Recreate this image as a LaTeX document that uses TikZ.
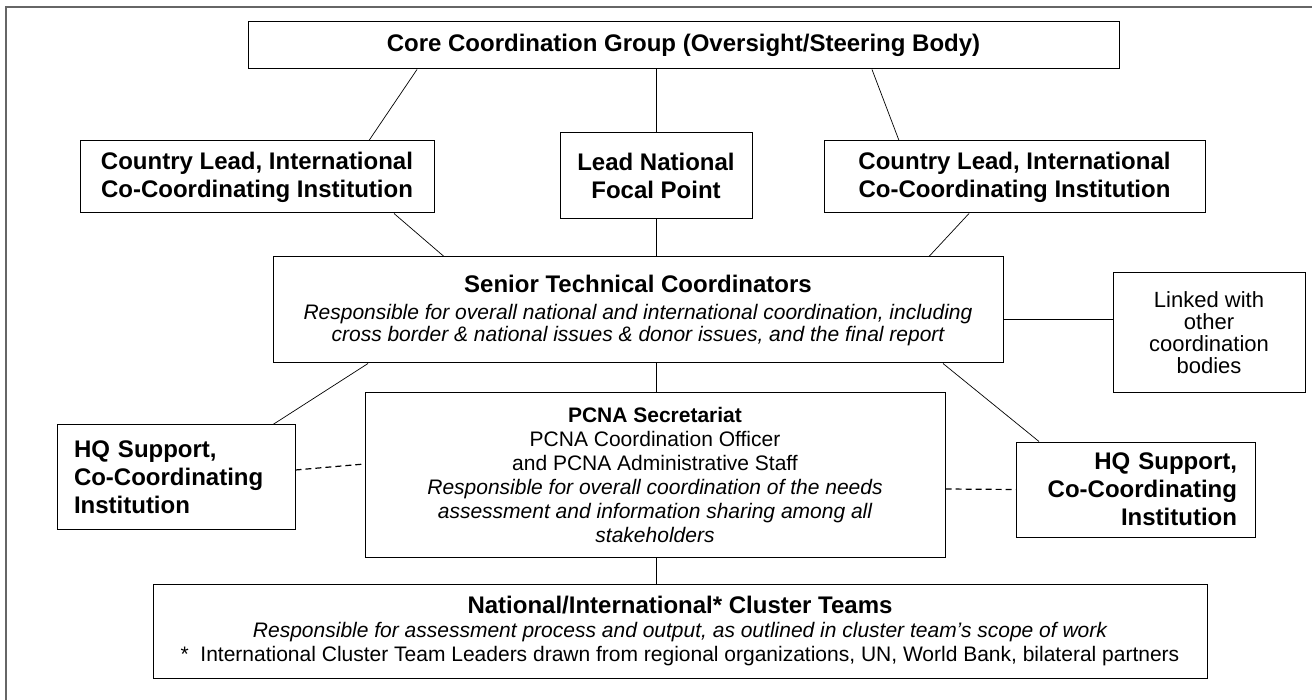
\documentclass[tikz,border=0pt]{standalone}
\usepackage{fontspec}
\setmainfont{Liberation Sans}
\usetikzlibrary{calc}

\tikzset{
  box/.style={draw, line width=1pt, inner sep=0pt, align=center},
  head/.style={font=\bfseries\fontsize{24}{28}\selectfont},
  body/.style={font=\fontsize{21}{24}\selectfont},
  link/.style={line width=0.7pt},
  dashlink/.style={line width=1.2pt, dash pattern=on 6pt off 4pt}
}

\begin{document}
\begin{tikzpicture}[x=1pt, y=-1pt]

% Page size and outer frame
\useasboundingbox (0,0) rectangle (1312,700);
\draw[line width=1.5pt, black!60] (6,700) -- (6,7) -- (1312,7);

% Top level
\node[box, head, minimum width=871, minimum height=47] (core) at (683.5,45.5)
  {Core Coordination Group (Oversight/Steering Body)};

% Second level
\node[box, head, minimum width=354, minimum height=72] (cl) at (257,177)
  {Country Lead, International\\Co-Coordinating Institution};
\node[box, head, minimum width=192, minimum height=86] (lnfp) at (656,176)
  {Lead National\\Focal Point};
\node[box, head, minimum width=381, minimum height=72] (cr) at (1014.5,177)
  {Country Lead, International\\Co-Coordinating Institution};

% Senior coordinators
\node[box, font=\fontsize{21}{22}\selectfont, minimum width=730, minimum height=106] (senior) at (638,310)
  {{\bfseries\fontsize{24}{28}\selectfont Senior Technical Coordinators}\\[5pt]
   \itshape Responsible for overall national and international coordination, including\\
   \itshape cross border \& national issues \& donor issues, and the final report};
\node[box, font=\fontsize{22}{22}\selectfont, minimum width=192, minimum height=120] (linked) at (1209,333)
  {Linked with\\other\\coordination\\bodies};

% Secretariat and HQ support
\node[box, head, text width=204, inner xsep=17, minimum height=104, align=left] (hql) at (176,477)
  {HQ Support,\\Co-Coordinating\\Institution};
\node[box, body, minimum width=580, minimum height=164] (pcna) at (655,475)
  {\textbf{PCNA Secretariat}\\
   PCNA Coordination Officer\\
   and PCNA Administrative Staff\\
   \itshape Responsible for overall coordination of the needs\\
   \itshape assessment and information sharing among all\\
   \itshape stakeholders};
\node[box, head, text width=203, inner xsep=18, minimum height=95, align=right] (hqr) at (1135.5,489.5)
  {HQ Support,\\Co-Coordinating\\Institution};

% Cluster teams
\node[box, body, minimum width=1054, minimum height=94] (cluster) at (680,631)
  {{\bfseries\fontsize{24}{28}\selectfont National/International* Cluster Teams}\\
   \itshape Responsible for assessment process and output, as outlined in cluster team's scope of work\\
   *\ \ International Cluster Team Leaders drawn from regional organizations, UN, World Bank, bilateral partners};

% Solid links
\draw[link] ([xshift=-266.5pt]core.south) -- ([xshift=112pt]cl.north);
\draw[link] (core.south -| lnfp.north) -- (lnfp.north);
\draw[link] ([xshift=188.5pt]core.south) -- ([xshift=-115.5pt]cr.north);
\draw[link] ([xshift=137pt]cl.south) -- ([xshift=-194pt]senior.north);
\draw[link] (lnfp.south) -- (lnfp.south |- senior.north);
\draw[link] ([xshift=-45.5pt]cr.south) -- ([xshift=291pt]senior.north);
\draw[link] ([yshift=-9pt]senior.east) -- ([yshift=-9pt]senior.east -| linked.west);
\draw[link] (senior.south -| lnfp.south) -- (pcna.north -| lnfp.south);
\draw[link] ([xshift=-270pt]senior.south) -- ([xshift=97pt]hql.north);
\draw[link] ([xshift=305pt]senior.south) -- ([xshift=-96.5pt]hqr.north);
\draw[link] (pcna.south -| lnfp.south) -- (cluster.north -| lnfp.south);

% Dashed links
\draw[dashlink] ([yshift=7pt]hql.east) -- ([yshift=11pt]pcna.west);
\draw[dashlink] ([yshift=-14pt]pcna.east) -- (hqr.west);

\end{tikzpicture}
\end{document}
